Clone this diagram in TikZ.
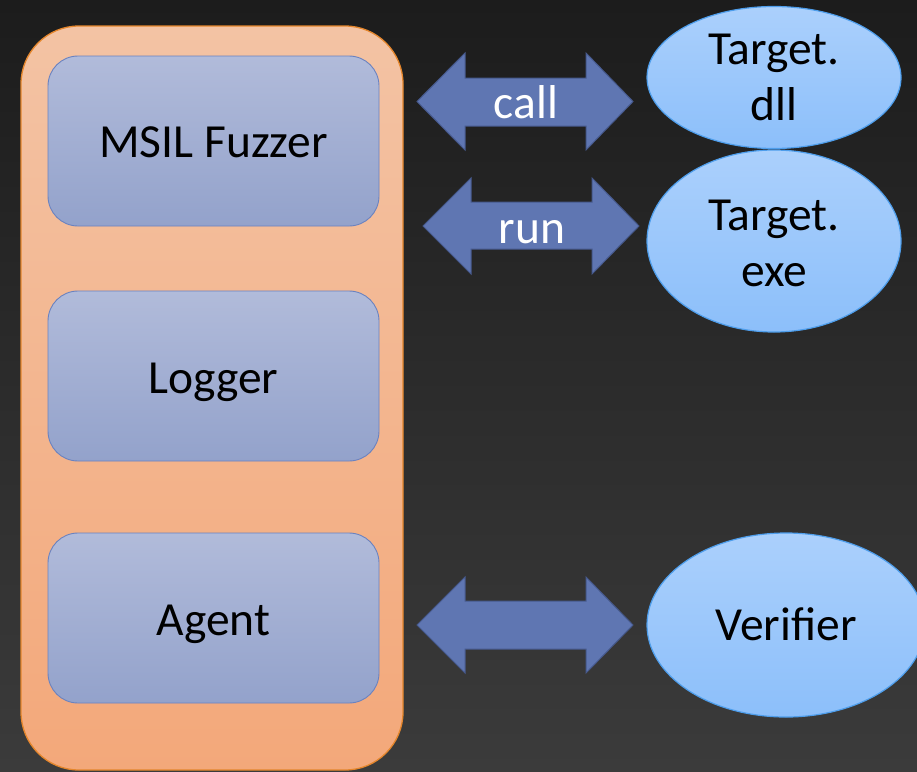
\documentclass[tikz,border=0pt]{standalone}
\usepackage{fontspec}
\setmainfont{Carlito}
\usetikzlibrary{shapes.geometric}
\definecolor{bgtop}{HTML}{1C1C1C}
\definecolor{bgbot}{HTML}{3B3B3B}
\definecolor{outtop}{HTML}{F3C3A4}
\definecolor{outbot}{HTML}{F3A87A}
\definecolor{outline}{HTML}{E5862C}
\definecolor{intop}{HTML}{B1BBDA}
\definecolor{inbot}{HTML}{93A2CB}
\definecolor{inline}{HTML}{6A82C0}
\definecolor{eltop}{HTML}{ABD0FC}
\definecolor{elbot}{HTML}{8CBFFA}
\definecolor{elline}{HTML}{4E9EEC}
\definecolor{arfill}{HTML}{5F76B2}
\definecolor{arline}{HTML}{46598C}
\begin{document}
\begin{tikzpicture}[x=1pt,y=-1pt,
  every node/.style={font=\fontsize{47.5}{56}\selectfont},
  outerbox/.style={draw=outline,line width=1.3pt,top color=outtop,bottom color=outbot,rounded corners=58pt},
  innerbox/.style={draw=inline,line width=0.9pt,top color=intop,bottom color=inbot,rounded corners=30pt,
    minimum width=331pt,minimum height=170pt,inner sep=0pt},
  ell/.style={ellipse,draw=elline,line width=1.2pt,top color=eltop,bottom color=elbot,inner sep=0pt},
  blockarrow/.style={draw=arline,line width=1pt,fill=arfill,line join=miter},
  onetext/.style={text height=32pt,text depth=0pt,inner sep=0pt},
  lbl/.style={onetext,text=white},
  etext/.style={align=center,inner sep=0pt,text=black}]
\useasboundingbox (0,0) rectangle (917,771);
\shade[top color=bgtop,bottom color=bgbot] (0,0) rectangle (917,771);
\begin{scope}
\clip (0,0) rectangle (917,771);
% outer container
\draw[outerbox] (21,26) rectangle (403,770);
\node[innerbox] (fuzzer) at (213.5,141) {};
\node[innerbox] (logger) at (213.5,376) {};
\node[innerbox] (agent) at (213.5,618) {};
\node[onetext] (fuzzert) at ([yshift=-0.5pt]fuzzer.center) {MSIL Fuzzer};
\node[onetext] (loggert) at ([yshift=-1pt]logger.center) {Logger};
\node[onetext] (agentt) at ([yshift=-1pt]agent.center) {Agent};
% ellipses
\node[ell,minimum width=254pt,minimum height=142pt] (dll) at (774,77.5) {};
\node[ell,minimum width=254pt,minimum height=182pt] (exe) at (774,241) {};
\node[ell,minimum width=278pt,minimum height=184pt] (ver) at (786,625) {};
\node[etext] (dllt) at (dll.center) {Target.\\dll};
\node[etext] (exet) at ([yshift=-2pt]exe.center) {Target.\\exe};
\node[onetext] (vert) at ([yshift=1pt]ver.center) {Verifier};
% block arrows
\draw[blockarrow] (417,101.5) -- (465,53) -- (465,78) -- (586,78) -- (586,53) -- (633,101.5)
  -- (586,150) -- (586,126) -- (465,126) -- (465,150) -- cycle;
\node[lbl] (calllbl) at (526,102) {call};
\draw[blockarrow] (423,226) -- (471,178) -- (471,202) -- (592,202) -- (592,178) -- (639,226)
  -- (592,274) -- (592,249) -- (471,249) -- (471,274) -- cycle;
\node[lbl] (runlbl) at (532,227) {run};
\draw[blockarrow] (417,625) -- (465,577) -- (465,601) -- (586,601) -- (586,577) -- (633,625)
  -- (586,673) -- (586,649) -- (465,649) -- (465,673) -- cycle;
\end{scope}
\end{tikzpicture}
\end{document}
